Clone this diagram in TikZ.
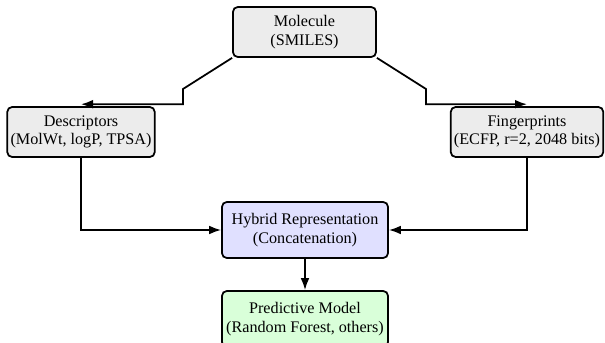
\documentclass[tikz,border=0pt]{standalone}
\usepackage{fontspec}
\setmainfont{Liberation Serif}
\usetikzlibrary{arrows.meta}
\begin{document}
\begin{tikzpicture}[x=0.625pt,y=-0.625pt,
  box/.style={draw, line width=1.1pt, rounded corners=3pt, align=center, inner sep=2pt, font=\fontsize{10.1}{11.5}\selectfont},
  graybox/.style={box, fill=gray!15},
  arr/.style={line width=1.1pt, -{Latex[length=7.5pt,width=5.5pt]}}]
\useasboundingbox (0,0) rectangle (605,343);
\begin{scope}
\clip (0,0) rectangle (605,343);
\node[graybox, minimum width=89.4pt, minimum height=31.25pt] (mol) at (304.5,32) {Molecule\\(SMILES)};
\node[graybox, minimum width=91.9pt, minimum height=31.25pt] (desc) at (81,132) {Descriptors\\(MolWt, logP, TPSA)};
\node[graybox, minimum width=92.5pt, minimum height=31.25pt] (fp) at (527,132) {Fingerprints\\(ECFP, r=2, 2048 bits)};
\node[box, fill=blue!12, minimum width=103.75pt, minimum height=35pt] (hyb) at (305,230) {Hybrid Representation\\(Concatenation)};
\node[box, fill=green!15, minimum width=103.75pt, minimum height=35pt] (pred) at (305,319) {Predictive Model\\(Random Forest, others)};
\coordinate (lbend) at (183,89);
\coordinate (rbend) at (426,89);
\draw[arr] (mol.south west) -- (lbend) |- ([yshift=1.2pt]desc.north);
\draw[arr] (mol.south east) -- (rbend) |- ([yshift=1.2pt]fp.north);
\draw[arr] (desc.south) |- (hyb.west);
\draw[arr] (fp.south) |- (hyb.east);
\draw[arr] (hyb.south) -- (pred.north);
\end{scope}
\end{tikzpicture}
\end{document}
